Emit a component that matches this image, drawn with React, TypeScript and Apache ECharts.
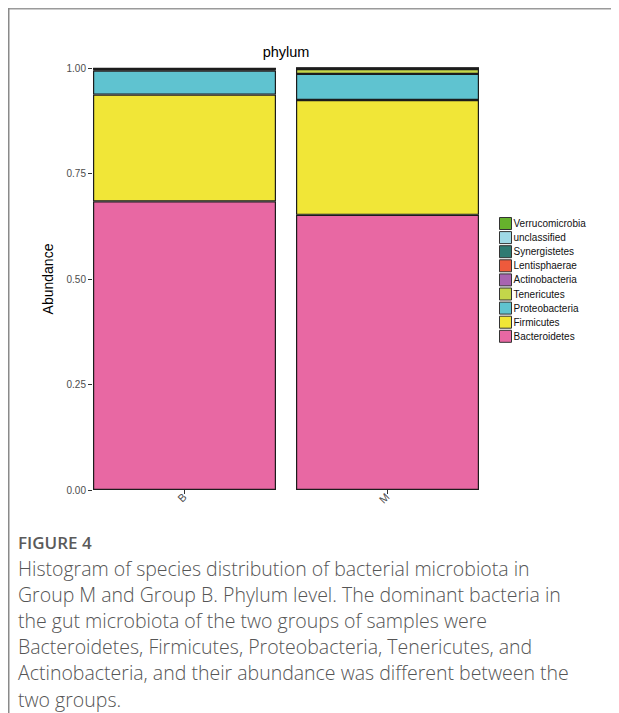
import React, { useEffect, useRef } from "react";
import * as echarts from "echarts";

// Groups on the x axis
const groups = ["B", "M"];

// Phyla, bottom of the stack first
const phyla = [
  "Bacteroidetes",
  "Firmicutes",
  "Proteobacteria",
  "Tenericutes",
  "Actinobacteria",
  "Lentisphaerae",
  "Synergistetes",
  "unclassified",
  "Verrucomicrobia",
];

const phylumColors = [
  "#e868a3",
  "#f1e637",
  "#5fc3d0",
  "#c3d64a",
  "#a864b0",
  "#ee5a3c",
  "#2e7a72",
  "#9fd9e6",
  "#66b22c",
];

// Relative abundance per phylum, values for [B, M]
const bacteroidetes = [0.684, 0.652];
const firmicutes = [0.253, 0.272];
const proteobacteria = [0.057, 0.062];
const tenericutes = [0.002, 0.0118];
const actinobacteria = [0.0015, 0.001];
const lentisphaerae = [0.0005, 0.0003];
const synergistetes = [0.0005, 0.0003];
const unclassified = [0.0005, 0.0003];
const verrucomicrobia = [0.0005, 0.0003];

const abundance = [
  bacteroidetes,
  firmicutes,
  proteobacteria,
  tenericutes,
  actinobacteria,
  lentisphaerae,
  synergistetes,
  unclassified,
  verrucomicrobia,
];

const yTicks = [0, 0.25, 0.5, 0.75, 1];

const captionHeading = "FIGURE 4";
const captionLines = [
  "Histogram of species distribution of bacterial microbiota in",
  "Group M and Group B. Phylum level. The dominant bacteria in",
  "the gut microbiota of the two groups of samples were",
  "Bacteroidetes, Firmicutes, Proteobacteria, Tenericutes, and",
  "Actinobacteria, and their abundance was different between the",
  "two groups.",
];

const SANS = "'Liberation Sans', Arial, Helvetica, sans-serif";
const CAPTION_FONT = "'Open Sans', 'Noto Sans', sans-serif";

export default function App() {
  const ref = useRef<HTMLDivElement>(null);

  useEffect(() => {
    if (!ref.current) return;
    const chart = echarts.init(ref.current, undefined, { renderer: "svg" });

    const series = phyla.map((name, i) => ({
      name,
      type: "bar" as const,
      stack: "total",
      barWidth: 183,
      data: abundance[i],
      itemStyle: {
        color: phylumColors[i],
        borderColor: "#1c1c1c",
        borderWidth: 1.2,
      },
      emphasis: { disabled: true },
    }));

    const captionGraphics: any[] = [
      {
        type: "text",
        left: 10,
        top: 526,
        style: {
          text: captionHeading,
          font: `600 17px ${CAPTION_FONT}`,
          fill: "#5a5a5a",
        },
      },
      ...captionLines.map((line, i) => ({
        type: "text",
        left: 10,
        top: 550 + i * 26.2,
        style: {
          text: line,
          font: `300 19.5px ${CAPTION_FONT}`,
          fill: "#555555",
        },
      })),
    ];

    chart.setOption({
      animation: false,
      backgroundColor: "#ffffff",
      grid: { left: 75, top: 60, width: 406, height: 422 },
      legend: {
        data: [...phyla].reverse(),
        orient: "vertical",
        left: 486,
        top: 204,
        itemWidth: 12,
        itemHeight: 12,
        itemGap: 1.1,
        icon: "rect",
        selectedMode: false,
        itemStyle: { borderColor: "#333333", borderWidth: 1 },
        textStyle: { fontFamily: SANS, fontSize: 10, color: "#111111", padding: [0, 0, 0, -3] },
      },
      xAxis: {
        type: "category",
        data: groups,
        axisLine: { show: false },
        axisTick: { show: true, alignWithLabel: true, length: 4, lineStyle: { color: "#333333" } },
        axisLabel: {
          rotate: 45,
          margin: 5,
          fontFamily: SANS,
          fontSize: 11,
          color: "#4d4d4d",
        },
      },
      yAxis: {
        type: "value",
        min: 0,
        max: 1,
        interval: 0.25,
        offset: -9,
        name: "Abundance",
        nameLocation: "middle",
        nameRotate: 90,
        nameGap: 37,
        nameTextStyle: { fontFamily: SANS, fontSize: 14, color: "#000000" },
        axisLine: { show: false },
        axisTick: { show: true, length: 4, lineStyle: { color: "#333333" } },
        splitLine: { show: false },
        axisLabel: {
          margin: 6,
          fontFamily: SANS,
          fontSize: 10,
          color: "#4d4d4d",
          formatter: (v: number) => (yTicks.includes(v) ? v.toFixed(2) : ""),
        },
      },
      series,
      graphic: [
        {
          type: "line",
          shape: { x1: 0, y1: 0.75, x2: 611, y2: 0.75 },
          style: { stroke: "#9a9a9a", lineWidth: 1.5 },
        },
        {
          type: "line",
          shape: { x1: 0.75, y1: 0, x2: 0.75, y2: 705 },
          style: { stroke: "#8a8a8a", lineWidth: 1.5 },
        },
        {
          type: "text",
          x: 278,
          y: 44,
          style: {
            text: "phylum",
            font: `14.5px ${SANS}`,
            fill: "#000000",
            align: "center",
            verticalAlign: "middle",
          },
        },
        ...captionGraphics,
      ],
    });

    return () => chart.dispose();
  }, []);

  return <div ref={ref} style={{ width: 611, height: 705 }} />;
}
